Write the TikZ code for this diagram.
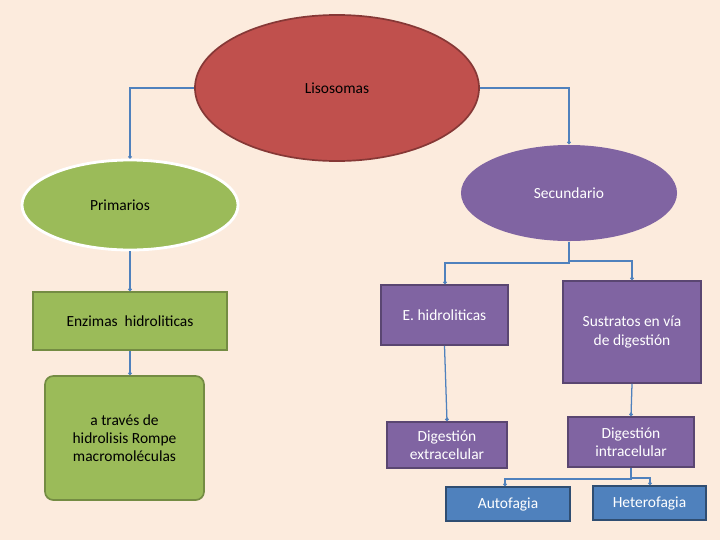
\documentclass[tikz,border=0pt]{standalone}
\usepackage{fontspec}
\setmainfont{Carlito}
\usetikzlibrary{arrows.meta,positioning,shapes.geometric}
\definecolor{bgc}{HTML}{FCEBDD}
\definecolor{redc}{HTML}{C0504D}
\definecolor{greenc}{HTML}{9BBB59}
\definecolor{purplec}{HTML}{8064A2}
\definecolor{bluec}{HTML}{4F81BD}
\definecolor{linec}{HTML}{4F81BD}
\newdimen\px \px=0.7113pt

\begin{document}
\begin{tikzpicture}[x=0.025cm,y=-0.025cm,font=\fontsize{11}{13}\selectfont]
	\tikzstyle{every node}=[align=center,inner sep=0pt]
	\tikzstyle{blob}=[ellipse,line width=1.2pt]
	\tikzstyle{pbox}=[rectangle,fill=purplec,draw=purplec!70!black,line width=1.2pt,text=white]
	\tikzstyle{gbox}=[rectangle,fill=greenc,draw=greenc!75!black,line width=1.2pt]
	\tikzstyle{bbox}=[rectangle,fill=bluec,draw=bluec!60!black,line width=1.2pt,text=white]
	\tikzstyle{link}=[draw=linec,line width=0.9pt,-{Circle[length=2.5pt]}]

	\fill[bgc] (0,0) rectangle (720,540);

	\node[blob,fill=redc,draw=redc!70!black,minimum width=284\px,minimum height=146\px] (liso) at (337,88) {Lisosomas};
	\node[blob,fill=greenc,draw=white,line width=2pt,minimum width=216\px,minimum height=90\px] (prim) at (130,205) {\hspace*{-5mm}Primarios};
	\node[blob,fill=purplec,minimum width=216\px,minimum height=96\px,text=white] (sec) at (569,193) {Secundario};

	\node[gbox,minimum width=194\px,minimum height=58\px] (enz) at (130,321) {Enzimas\ \ hidroliticas};
	\node[gbox,rounded corners=6pt,minimum width=159\px,minimum height=124\px] (hidro) at (124.5,438) {a trav\'es de\\hidrolisis Rompe\\macromol\'eculas};

	\node[pbox,minimum width=127\px,minimum height=60\px] (ehid) at (444.5,315) {};
	\node[text=white] (ehidt) at (444.5,315) {E. hidroliticas};
	\node[pbox,minimum width=138\px,minimum height=102\px] (sust) at (632,332) {Sustratos en v\'ia\\de digesti\'on};
	\node[pbox,minimum width=120\px,minimum height=46\px] (dext) at (447,445) {Digesti\'on\\extracelular};
	\node[pbox,minimum width=126\px,minimum height=50\px] (dint) at (631,442) {Digesti\'on\\intracelular};
	\node[bbox,minimum width=124\px,minimum height=34\px] (auto) at (508,504) {Autofagia};
	\node[bbox,minimum width=113\px,minimum height=34\px] (hete) at (649.5,503) {Heterofagia};

	\draw[link] (liso.west) -| (prim.north);
	\draw[link] (liso.east) -| (sec.north);
	\draw[link] (prim.south) -- (enz.north);
	\draw[link] (enz.south) -- (hidro.north -| enz.south);
	\draw[link] (sec.south) |- (445,263) -- (ehid.north -| 445,0);
	\draw[link] (sec.south) |- (632,261) -- (sust.north);
	\draw[link] (ehid.south) -- (dext.north);
	\draw[link] (sust.south) -- (dint.north);
	\draw[link] (dint.south) |- (505,479) -- (auto.north -| 505,0);
	\draw[link] (dint.south) |- (650,478) -- (hete.north -| 650,0);
\end{tikzpicture}
\end{document}
